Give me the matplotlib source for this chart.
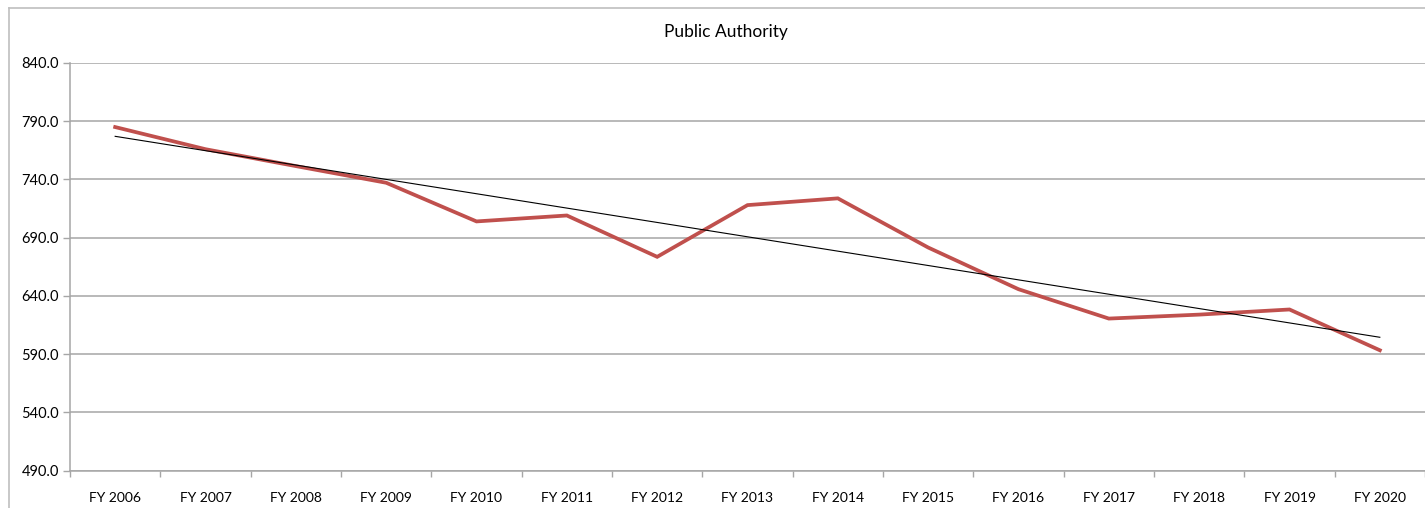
import numpy as np
import matplotlib
matplotlib.use("Agg")
import matplotlib.pyplot as plt
from matplotlib.lines import Line2D

plt.rcParams['font.family'] = ['Lato', 'DejaVu Sans']

years = ["FY 2006", "FY 2007", "FY 2008", "FY 2009", "FY 2010", "FY 2011", "FY 2012",
         "FY 2013", "FY 2014", "FY 2015", "FY 2016", "FY 2017", "FY 2018", "FY 2019", "FY 2020"]
values = [785.0, 766.0, 751.5, 737.2, 704.0, 709.1, 673.6,
          718.0, 723.8, 681.6, 645.8, 620.6, 624.0, 628.4, 593.4]
title = "Public Authority"

W, H = 1425, 508
fig = plt.figure(figsize=(W / 100, H / 100), dpi=100)
ax = fig.add_axes([70 / W, (H - 470.7) / H, (W - 70) / W, (470.7 - 63) / H])

x = np.arange(len(years))
grid_col = "#a6a6a6"

# linear trendline through the series
slope, intercept = np.polyfit(x, values, 1)
ax.plot(x, values, color="#c0504d", lw=2.7, solid_joinstyle="miter", zorder=3)
ax.plot(x, slope * x + intercept, color="black", lw=0.8, zorder=4)

ax.set_xlim(-0.5, len(years) - 0.5)
ax.set_ylim(490, 840)
ax.set_yticks(np.arange(490, 841, 50))
ax.yaxis.set_major_formatter(matplotlib.ticker.FormatStrFormatter("%.1f"))
ax.grid(axis="y", color=grid_col, lw=1.1)
ax.set_axisbelow(True)

ax.set_xticks(x)
ax.set_xticklabels(years)
ax.set_xticks(np.arange(-0.5, len(years)), minor=True)
ax.tick_params(axis="x", which="major", length=0, pad=15, labelsize=10, colors="black")
ax.tick_params(axis="x", which="minor", length=4, width=1, color=grid_col)
ax.tick_params(axis="y", length=5, width=1, color=grid_col, pad=3, labelsize=10.5, labelcolor="black")

for side in ("top", "right"):
    ax.spines[side].set_visible(False)
for side in ("left", "bottom"):
    ax.spines[side].set_color(grid_col)
    ax.spines[side].set_linewidth(1.1)

fig.text(726 / W, 1 - 32 / H, title, ha="center", va="center", fontsize=12.5)

# chart area border
fig.add_artist(Line2D([9 / W, 9 / W], [0, 1 - 8 / H], color="#bfbfbf", lw=1.2))
fig.add_artist(Line2D([9 / W, 1], [1 - 8 / H, 1 - 8 / H], color="#bfbfbf", lw=1.2))

fig.savefig("out.png", dpi=100)
